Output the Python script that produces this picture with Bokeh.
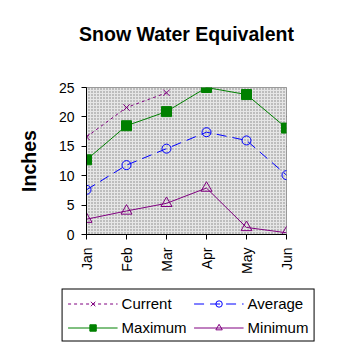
import math
from bokeh.plotting import figure
from bokeh.models import (Range1d, FixedTicker, Legend, LegendItem, BoxAnnotation,
                          Title, ColumnDataSource)
from bokeh.embed import file_html
from bokeh.resources import INLINE

months = ["Jan", "Feb", "Mar", "Apr", "May", "Jun"]
current = [16.6, 21.6, 24.1]
average = [7.6, 11.8, 14.6, 17.4, 16.0, 10.1]
maximum = [12.7, 18.5, 20.9, 25.0, 23.8, 18.1]
minimum = [2.6, 4.0, 5.3, 7.9, 1.2, 0.3]
y_ticks = [0, 5, 10, 15, 20, 25]

FONT = "Liberation Sans"
purple = "#800080"
blue = "#0000ff"
green = "#008000"

p = figure(frame_width=200, frame_height=147, output_backend="svg", toolbar_location=None,
           x_range=Range1d(0, len(months) - 1), y_range=Range1d(0, 25),
           min_border_left=86, min_border_right=52, min_border_top=87,
           min_border_bottom=52)
p.title = None
# spacer panel between the frame and the title
p.add_layout(Title(text=" ", text_font=FONT, text_font_size="1px", standoff=32), "above")
p.add_layout(Title(text="Snow Water Equivalent", align="center",
                   text_font=FONT, text_font_size="19.5px", text_font_style="bold",
                   text_color="black", standoff=16, offset=10), "above")

p.background_fill_color = "white"
p.border_fill_color = "white"
p.outline_line_color = "#808080"
p.outline_line_width = 1

# stipple background
bg = BoxAnnotation(fill_color="#e6e6e6", fill_alpha=1.0, hatch_pattern="dot",
                   hatch_color="#808080", hatch_scale=3, hatch_weight=1,
                   line_color=None, level="underlay")
p.add_layout(bg)

xs = list(range(len(months)))


def sources():
    return (ColumnDataSource(dict(x=xs[:len(current)], y=current)),
            ColumnDataSource(dict(x=xs, y=average)),
            ColumnDataSource(dict(x=xs, y=maximum)),
            ColumnDataSource(dict(x=xs, y=minimum)))


def draw(fig, data):
    cur, avg, mx, mn = data
    r = {}
    r["cur"] = (fig.line("x", "y", source=cur, line_color=purple, line_width=1, line_dash="3 3"),
                fig.scatter("x", "y", source=cur, marker="x", size=9, line_color=purple))
    r["avg"] = (fig.line("x", "y", source=avg, line_color=blue, line_width=1, line_dash="10 6"),
                fig.scatter("x", "y", source=avg, marker="circle", size=9, line_color=blue,
                            fill_color=None))
    r["max"] = (fig.line("x", "y", source=mx, line_color=green, line_width=1),
                fig.scatter("x", "y", source=mx, marker="square", size=10, line_color=green,
                            fill_color=green))
    r["min"] = (fig.line("x", "y", source=mn, line_color=purple, line_width=1),
                fig.scatter("x", "y", source=mn, marker="triangle", size=11, line_color=purple,
                            fill_color=None))
    return r


draw(p, sources())

# axes
p.xaxis.ticker = FixedTicker(ticks=xs)
p.xaxis.major_label_overrides = {i: m for i, m in enumerate(months)}
p.xaxis.major_label_orientation = math.pi / 2
p.yaxis.ticker = FixedTicker(ticks=y_ticks)
for ax in (p.xaxis, p.yaxis):
    ax.axis_line_color = "black"
    ax.major_tick_line_color = "black"
    ax.minor_tick_line_color = None
    ax.major_tick_out = 5
    ax.major_tick_in = 0
    ax.major_label_text_font = FONT
    ax.major_label_text_font_size = "14px"
    ax.major_label_text_color = "black"
p.xaxis.major_label_standoff = 8
p.yaxis.major_label_standoff = 7
p.yaxis.axis_label = "Inches"
p.yaxis.axis_label_text_font = FONT
p.yaxis.axis_label_text_font_size = "19.5px"
p.yaxis.axis_label_text_font_style = "bold"
p.yaxis.axis_label_text_color = "black"
p.yaxis.axis_label_standoff = 16

p.xgrid.grid_line_color = None
p.ygrid.grid_line_color = "black"
p.ygrid.grid_line_dash = "4 3"
p.ygrid.grid_line_width = 1

# legend in its own small figure (separate root, so it is not aligned to p);
# its series sit outside its visible range, only the legend shows
lf = figure(width=340, height=58, output_backend="svg", toolbar_location=None,
            x_range=Range1d(0, 1), y_range=Range1d(-2, -1), x_axis_type=None, y_axis_type=None,
            min_border_left=36, min_border_right=0, min_border_top=0, min_border_bottom=0)
lf.title = None
lf.outline_line_color = None
lf.grid.grid_line_color = None
lf.background_fill_color = "white"
lf.border_fill_color = "white"
lr = draw(lf, sources())

legend = Legend(items=[
    LegendItem(label="Current", renderers=list(lr["cur"])),
    LegendItem(label="Maximum", renderers=list(lr["max"])),
    LegendItem(label="Average", renderers=list(lr["avg"])),
    LegendItem(label="Minimum", renderers=list(lr["min"])),
], ncols=2, location="center")
legend.label_text_font = FONT
legend.label_text_font_size = "15px"
legend.label_text_color = "black"
legend.border_line_color = "black"
legend.border_line_width = 1
legend.border_line_alpha = 1
legend.background_fill_color = "white"
legend.background_fill_alpha = 1
legend.glyph_width = 50
legend.glyph_height = 16
legend.label_standoff = 4
legend.spacing = 7
legend.padding = 5
legend.margin = 0
legend.border_radius = 0
lf.add_layout(legend, "center")

open("out.html", "w").write(file_html([p, lf], INLINE))
